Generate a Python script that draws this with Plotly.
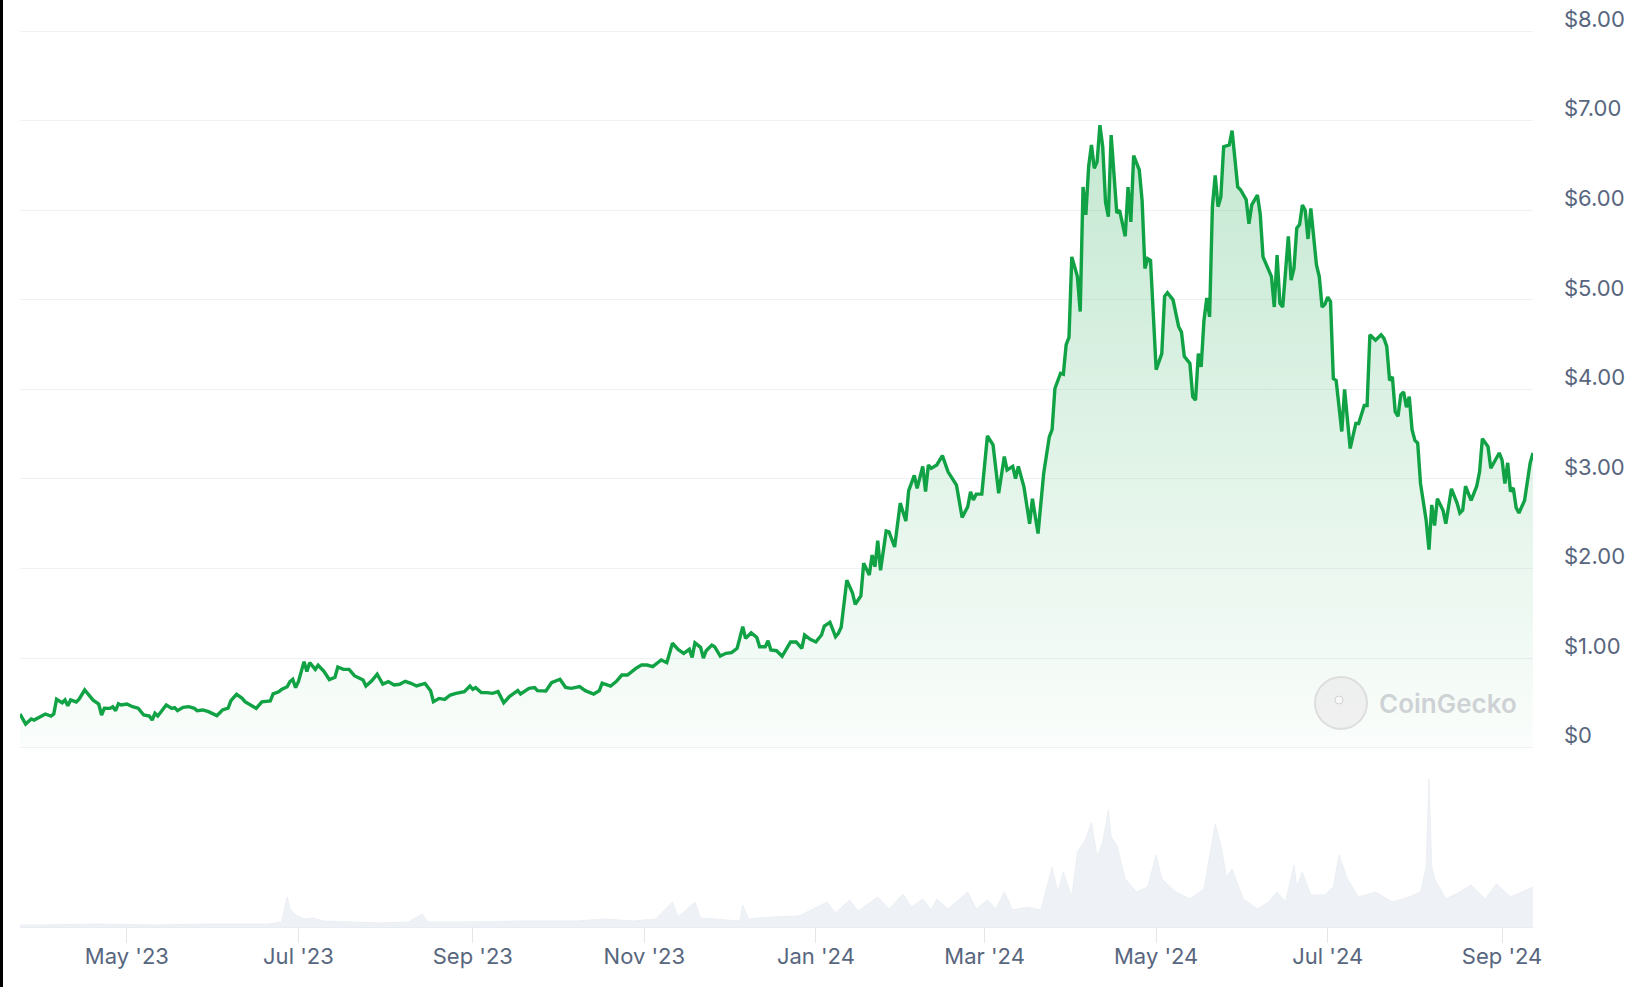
import plotly.graph_objects as go

# ---------------- data ----------------
price_dates = [
    "2023-03-24", "2023-03-26", "2023-03-28", "2023-03-29", "2023-04-02", "2023-04-04", "2023-04-05", "2023-04-06", "2023-04-08", "2023-04-09",
    "2023-04-10", "2023-04-11", "2023-04-13", "2023-04-14", "2023-04-16", "2023-04-19", "2023-04-21", "2023-04-22", "2023-04-23", "2023-04-25",
    "2023-04-26", "2023-04-27", "2023-04-28", "2023-04-29", "2023-05-01", "2023-05-03", "2023-05-05", "2023-05-07", "2023-05-09", "2023-05-10",
    "2023-05-11", "2023-05-12", "2023-05-15", "2023-05-17", "2023-05-18", "2023-05-19", "2023-05-21", "2023-05-23", "2023-05-25", "2023-05-26",
    "2023-05-28", "2023-05-30", "2023-06-02", "2023-06-04", "2023-06-06", "2023-06-07", "2023-06-09", "2023-06-11", "2023-06-12", "2023-06-15",
    "2023-06-16", "2023-06-18", "2023-06-20", "2023-06-21", "2023-06-22", "2023-06-24", "2023-06-25", "2023-06-27", "2023-06-28", "2023-06-29",
    "2023-06-30", "2023-07-01", "2023-07-03", "2023-07-04", "2023-07-05", "2023-07-07", "2023-07-08", "2023-07-10", "2023-07-12", "2023-07-14",
    "2023-07-15", "2023-07-17", "2023-07-19", "2023-07-21", "2023-07-22", "2023-07-24", "2023-07-25", "2023-07-27", "2023-07-29", "2023-07-31",
    "2023-08-02", "2023-08-04", "2023-08-06", "2023-08-08", "2023-08-10", "2023-08-12", "2023-08-15", "2023-08-17", "2023-08-18", "2023-08-20",
    "2023-08-22", "2023-08-24", "2023-08-26", "2023-08-29", "2023-08-31", "2023-09-01", "2023-09-02", "2023-09-04", "2023-09-06", "2023-09-08",
    "2023-09-10", "2023-09-12", "2023-09-14", "2023-09-17", "2023-09-18", "2023-09-21", "2023-09-23", "2023-09-24", "2023-09-27", "2023-09-29",
    "2023-10-02", "2023-10-04", "2023-10-06", "2023-10-09", "2023-10-11", "2023-10-14", "2023-10-16", "2023-10-17", "2023-10-20", "2023-10-22",
    "2023-10-24", "2023-10-26", "2023-10-29", "2023-10-31", "2023-11-02", "2023-11-04", "2023-11-07", "2023-11-09", "2023-11-11", "2023-11-13",
    "2023-11-15", "2023-11-17", "2023-11-18", "2023-11-19", "2023-11-21", "2023-11-22", "2023-11-23", "2023-11-25", "2023-11-26", "2023-11-28",
    "2023-11-30", "2023-12-02", "2023-12-04", "2023-12-06", "2023-12-07", "2023-12-09", "2023-12-11", "2023-12-12", "2023-12-14", "2023-12-15",
    "2023-12-16", "2023-12-18", "2023-12-20", "2023-12-23", "2023-12-25", "2023-12-27", "2023-12-28", "2023-12-30", "2024-01-01", "2024-01-03",
    "2024-01-04", "2024-01-06", "2024-01-08", "2024-01-09", "2024-01-10", "2024-01-12", "2024-01-14", "2024-01-15", "2024-01-17", "2024-01-18",
    "2024-01-20", "2024-01-21", "2024-01-22", "2024-01-23", "2024-01-24", "2024-01-26", "2024-01-27", "2024-01-29", "2024-01-31", "2024-02-02",
    "2024-02-03", "2024-02-05", "2024-02-06", "2024-02-08", "2024-02-09", "2024-02-10", "2024-02-11", "2024-02-13", "2024-02-15", "2024-02-17",
    "2024-02-20", "2024-02-22", "2024-02-24", "2024-02-25", "2024-02-26", "2024-02-27", "2024-02-29", "2024-03-02", "2024-03-04", "2024-03-06",
    "2024-03-08", "2024-03-09", "2024-03-11", "2024-03-12", "2024-03-13", "2024-03-14", "2024-03-15", "2024-03-17", "2024-03-18", "2024-03-20",
    "2024-03-22", "2024-03-24", "2024-03-25", "2024-03-26", "2024-03-28", "2024-03-29", "2024-03-30", "2024-03-31", "2024-04-01", "2024-04-03",
    "2024-04-04", "2024-04-05", "2024-04-06", "2024-04-07", "2024-04-08", "2024-04-09", "2024-04-10", "2024-04-11", "2024-04-12", "2024-04-13",
    "2024-04-14", "2024-04-15", "2024-04-17", "2024-04-18", "2024-04-20", "2024-04-21", "2024-04-22", "2024-04-23", "2024-04-25", "2024-04-26",
    "2024-04-27", "2024-04-28", "2024-04-29", "2024-05-01", "2024-05-03", "2024-05-04", "2024-05-05", "2024-05-07", "2024-05-09", "2024-05-10",
    "2024-05-11", "2024-05-13", "2024-05-14", "2024-05-15", "2024-05-16", "2024-05-17", "2024-05-18", "2024-05-19", "2024-05-20", "2024-05-21",
    "2024-05-22", "2024-05-23", "2024-05-24", "2024-05-25", "2024-05-27", "2024-05-28", "2024-05-29", "2024-05-30", "2024-05-31", "2024-06-02",
    "2024-06-03", "2024-06-04", "2024-06-06", "2024-06-07", "2024-06-08", "2024-06-09", "2024-06-11", "2024-06-12", "2024-06-13", "2024-06-14",
    "2024-06-15", "2024-06-17", "2024-06-18", "2024-06-19", "2024-06-20", "2024-06-21", "2024-06-22", "2024-06-23", "2024-06-24", "2024-06-25",
    "2024-06-26", "2024-06-27", "2024-06-28", "2024-06-29", "2024-06-30", "2024-07-01", "2024-07-02", "2024-07-03", "2024-07-04", "2024-07-05",
    "2024-07-06", "2024-07-07", "2024-07-08", "2024-07-09", "2024-07-11", "2024-07-12", "2024-07-14", "2024-07-15", "2024-07-16", "2024-07-18",
    "2024-07-20", "2024-07-21", "2024-07-22", "2024-07-23", "2024-07-24", "2024-07-25", "2024-07-26", "2024-07-27", "2024-07-28", "2024-07-29",
    "2024-07-30", "2024-07-31", "2024-08-01", "2024-08-02", "2024-08-03", "2024-08-05", "2024-08-06", "2024-08-07", "2024-08-08", "2024-08-09",
    "2024-08-11", "2024-08-12", "2024-08-14", "2024-08-16", "2024-08-17", "2024-08-18", "2024-08-19", "2024-08-21", "2024-08-23", "2024-08-24",
    "2024-08-25", "2024-08-27", "2024-08-28", "2024-08-30", "2024-08-31", "2024-09-01", "2024-09-02", "2024-09-03", "2024-09-04", "2024-09-05",
    "2024-09-06", "2024-09-07", "2024-09-09", "2024-09-11", "2024-09-12",
]

price_usd = [
    0.375, 0.264, 0.32, 0.308, 0.375, 0.353, 0.375, 0.539, 0.501, 0.532,
    0.468, 0.532, 0.51, 0.54, 0.643, 0.53, 0.487, 0.364, 0.44, 0.438,
    0.457, 0.412, 0.49, 0.476, 0.487, 0.457, 0.44, 0.364, 0.353, 0.308,
    0.383, 0.353, 0.475, 0.438, 0.446, 0.412, 0.449, 0.457, 0.438, 0.412,
    0.42, 0.401, 0.357, 0.42, 0.44, 0.524, 0.595, 0.55, 0.513, 0.456,
    0.438, 0.51, 0.52, 0.52, 0.6, 0.624, 0.65, 0.68, 0.736, 0.762,
    0.67, 0.736, 0.96, 0.85, 0.948, 0.874, 0.92, 0.855, 0.76, 0.785,
    0.9, 0.874, 0.874, 0.8, 0.785, 0.755, 0.688, 0.744, 0.82, 0.71,
    0.737, 0.7, 0.707, 0.74, 0.718, 0.688, 0.717, 0.636, 0.513, 0.549,
    0.538, 0.587, 0.606, 0.625, 0.688, 0.651, 0.67, 0.614, 0.614, 0.606,
    0.625, 0.5, 0.569, 0.636, 0.599, 0.662, 0.67, 0.636, 0.632, 0.725,
    0.763, 0.673, 0.662, 0.681, 0.636, 0.598, 0.636, 0.72, 0.688, 0.737,
    0.81, 0.81, 0.885, 0.922, 0.922, 0.904, 0.978, 0.948, 1.165, 1.097,
    1.053, 1.098, 1.008, 1.17, 1.12, 1.0, 1.082, 1.145, 1.127, 1.022,
    1.053, 1.06, 1.108, 1.35, 1.22, 1.282, 1.23, 1.127, 1.127, 1.194,
    1.09, 1.082, 1.02, 1.18, 1.18, 1.108, 1.257, 1.209, 1.18, 1.257,
    1.358, 1.4, 1.239, 1.276, 1.343, 1.87, 1.73, 1.6, 1.693, 2.06,
    1.927, 2.15, 2.02, 2.31, 1.98, 2.42, 2.41, 2.24, 2.73, 2.53,
    2.87, 3.04, 2.895, 3.14, 2.86, 3.156, 3.118, 3.156, 3.26, 3.08,
    2.93, 2.57, 2.69, 2.857, 2.764, 2.83, 2.83, 3.48, 3.38, 2.84,
    3.25, 3.10, 3.14, 3.005, 3.14, 3.005, 2.91, 2.50, 2.78, 2.39,
    3.06, 3.47, 3.55, 4.01, 4.18, 4.17, 4.50, 4.58, 5.48, 5.26,
    4.87, 6.26, 5.95, 6.49, 6.73, 6.47, 6.54, 6.95, 6.71, 6.09,
    5.93, 6.84, 5.97, 6.0, 5.71, 6.26, 5.87, 6.61, 6.45, 6.11,
    5.35, 5.46, 5.44, 4.22, 4.40, 5.04, 5.08, 5.0, 4.70, 4.64,
    4.37, 4.29, 3.92, 3.88, 4.40, 4.25, 4.77, 5.02, 4.81, 6.04,
    6.39, 6.04, 6.15, 6.71, 6.73, 6.89, 6.56, 6.26, 6.23, 6.12,
    5.85, 6.06, 6.17, 5.96, 5.48, 5.41, 5.26, 4.92, 5.50, 4.96,
    4.92, 5.71, 5.22, 5.35, 5.80, 5.84, 6.06, 6.0, 5.68, 6.02,
    5.67, 5.39, 5.26, 4.92, 4.95, 5.03, 4.98, 4.12, 4.10, 3.83,
    3.53, 4.00, 3.66, 3.34, 3.62, 3.62, 3.82, 3.82, 4.61, 4.55,
    4.61, 4.57, 4.48, 4.10, 4.14, 3.75, 3.70, 3.94, 3.97, 3.80,
    3.92, 3.55, 3.43, 3.40, 2.95, 2.54, 2.21, 2.71, 2.48, 2.78,
    2.65, 2.50, 2.89, 2.73, 2.62, 2.65, 2.92, 2.76, 2.92, 3.08,
    3.45, 3.36, 3.12, 3.23, 3.29, 3.21, 2.95, 3.18, 2.86, 2.90,
    2.68, 2.62, 2.76, 3.18, 3.29,
]

volume_dates = [
    "2023-03-24", "2023-04-01", "2023-04-21", "2023-05-11", "2023-05-31", "2023-06-20", "2023-06-25", "2023-06-27", "2023-06-28", "2023-06-30",
    "2023-07-03", "2023-07-06", "2023-07-10", "2023-07-20", "2023-07-30", "2023-08-09", "2023-08-14", "2023-08-16", "2023-08-29", "2023-09-18",
    "2023-10-08", "2023-10-18", "2023-10-28", "2023-11-05", "2023-11-11", "2023-11-13", "2023-11-19", "2023-11-21", "2023-11-27", "2023-12-05",
    "2023-12-06", "2023-12-08", "2023-12-16", "2023-12-26", "2024-01-05", "2024-01-08", "2024-01-13", "2024-01-16", "2024-01-23", "2024-01-27",
    "2024-02-01", "2024-02-04", "2024-02-08", "2024-02-11", "2024-02-13", "2024-02-17", "2024-02-24", "2024-02-27", "2024-03-02", "2024-03-05",
    "2024-03-08", "2024-03-11", "2024-03-16", "2024-03-21", "2024-03-25", "2024-03-27", "2024-03-29", "2024-04-01", "2024-04-03", "2024-04-06",
    "2024-04-08", "2024-04-10", "2024-04-12", "2024-04-14", "2024-04-15", "2024-04-17", "2024-04-20", "2024-04-24", "2024-04-28", "2024-05-01",
    "2024-05-03", "2024-05-08", "2024-05-13", "2024-05-18", "2024-05-22", "2024-05-24", "2024-05-26", "2024-05-28", "2024-06-01", "2024-06-06",
    "2024-06-10", "2024-06-13", "2024-06-16", "2024-06-19", "2024-06-20", "2024-06-22", "2024-06-25", "2024-06-30", "2024-07-03", "2024-07-05",
    "2024-07-08", "2024-07-12", "2024-07-18", "2024-07-24", "2024-07-30", "2024-08-03", "2024-08-05", "2024-08-06", "2024-08-07", "2024-08-08",
    "2024-08-12", "2024-08-17", "2024-08-21", "2024-08-26", "2024-08-30", "2024-09-04", "2024-09-08", "2024-09-12",
]

volume_musd = [
    1, 1, 1.5, 1, 1.5, 1.5, 2.5, 15, 9, 6,
    4, 4.5, 3, 2.5, 2, 2.5, 6.5, 2.5, 2.5, 3,
    3, 4, 3, 4, 12.5, 5, 12.5, 4.5, 4, 3,
    11, 4, 5, 5.5, 12.5, 7, 13.5, 8, 15, 9,
    16.5, 10, 14, 8.5, 14, 9, 17.5, 9, 13.5, 9,
    17.5, 8.5, 10, 8.5, 30, 17.5, 27.5, 15, 37.5, 44,
    52.5, 35, 42.5, 58.5, 45, 41, 24, 17.5, 20, 36,
    24, 17.5, 14, 19, 51.5, 41, 25, 29, 14, 9,
    12.5, 17.5, 12.5, 31, 20, 27.5, 16, 16, 20, 36,
    24, 15, 17.5, 12.5, 15, 17.5, 30, 74, 30, 24,
    14, 17.5, 21, 14, 21.5, 15, 17.5, 20,
]

x_tick_dates = ["2023-05-01", "2023-07-01", "2023-09-01", "2023-11-01", "2024-01-01",
                "2024-03-01", "2024-05-01", "2024-07-01", "2024-09-01"]
x_tick_labels = ["May '23", "Jul '23", "Sep '23", "Nov '23", "Jan '24",
                 "Mar '24", "May '24", "Jul '24", "Sep '24"]
price_ticks = [0, 1, 2, 3, 4, 5, 6, 7, 8]
price_tick_labels = ["$0", "$1.00", "$2.00", "$3.00", "$4.00", "$5.00", "$6.00", "$7.00", "$8.00"]

# ---------------- styling ----------------
W, H = 1644, 987
ML, MR, MT, MB = 20, 111, 0, 60
LINE_GREEN = "#10a244"
LABEL_GRAY = "#58667e"
GRID = "#eff2f5"
FONT = "Inter"

fig = go.Figure()

fig.add_trace(go.Scatter(
    x=volume_dates, y=volume_musd, yaxis="y2",
    mode="lines", line=dict(color="#eceff3", width=1),
    fill="tozeroy", fillcolor="#eef1f5",
    hoverinfo="skip", showlegend=False,
))

fig.add_trace(go.Scatter(
    x=price_dates, y=price_usd,
    mode="lines", line=dict(color=LINE_GREEN, width=3.4),
    fill="tozeroy",
    fillgradient=dict(
        type="vertical",
        colorscale=[[0, "rgba(18,163,71,0.02)"], [1, "rgba(18,163,71,0.25)"]],
        start=0, stop=7,
    ),
    showlegend=False,
))

plot_h = H - MT - MB
px_per_dollar = 89.55
price_top = (747.6 - MT) / px_per_dollar
price_bottom = -(MT + plot_h - 747.6) / px_per_dollar

fig.update_layout(
    width=W, height=H,
    margin=dict(l=ML, r=MR, t=MT, b=MB, pad=0),
    paper_bgcolor="white", plot_bgcolor="white",
    font=dict(family=FONT, color=LABEL_GRAY, size=22),
    showlegend=False,
    xaxis=dict(
        type="date",
        range=[price_dates[0], price_dates[-1]],
        tickvals=x_tick_dates, ticktext=x_tick_labels,
        ticks="outside", ticklen=15, tickwidth=1, tickcolor="#e3e6ea",
        ticklabelstandoff=-5,
        showgrid=False, zeroline=False,
        showline=True, linecolor="#e9ecf0", linewidth=1,
        tickfont=dict(family=FONT, size=22, color=LABEL_GRAY),
        fixedrange=True,
    ),
    yaxis=dict(
        side="right",
        range=[price_bottom, price_top],
        tickvals=price_ticks, ticktext=price_tick_labels,
        showgrid=True, gridcolor=GRID, gridwidth=1,
        zeroline=False, showline=False, ticks="",
        ticklabelstandoff=30, ticklabelshift=-12,
        tickfont=dict(family=FONT, size=22, color=LABEL_GRAY),
        fixedrange=True,
    ),
    yaxis2=dict(
        overlaying="y", side="right", visible=False,
        range=[0, plot_h / 2.0],
        showgrid=False, zeroline=False, fixedrange=True,
    ),
)

def px_x(p):
    return (p - ML) / (W - ML - MR)

def px_y(p):
    return (MT + plot_h - p) / plot_h

# left black border strip
fig.add_shape(type="rect", xref="paper", yref="paper",
              x0=px_x(0), x1=px_x(3), y0=px_y(H), y1=px_y(0),
              fillcolor="#000000", line=dict(width=0), layer="above")

# CoinGecko watermark
cx, cy, r = 1341, 703, 26
fig.add_shape(type="circle", xref="paper", yref="paper",
              x0=px_x(cx - r), x1=px_x(cx + r), y0=px_y(cy + r), y1=px_y(cy - r),
              fillcolor="rgba(235,235,235,0.7)", line=dict(color="rgba(215,215,215,0.8)", width=2),
              layer="above")
fig.add_shape(type="circle", xref="paper", yref="paper",
              x0=px_x(cx - 6), x1=px_x(cx + 2), y0=px_y(cy + 1), y1=px_y(cy - 7),
              fillcolor="rgba(250,250,250,0.9)", line=dict(color="rgba(205,205,205,0.9)", width=1),
              layer="above")
fig.add_annotation(xref="paper", yref="paper", x=px_x(1377), y=px_y(703),
                   xanchor="left", yanchor="middle", showarrow=False,
                   text="CoinGecko",
                   font=dict(family=FONT, size=26, color="rgba(195,199,204,0.8)", weight=600))

fig.write_html("out.html", config={"displayModeBar": False},
               post_script="document.body.style.margin='0';document.body.style.overflow='hidden';")
